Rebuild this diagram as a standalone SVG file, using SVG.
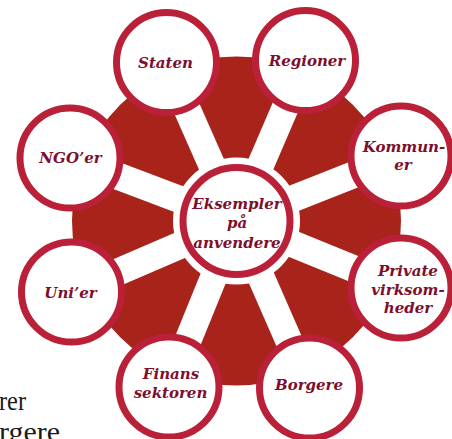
<svg xmlns="http://www.w3.org/2000/svg" width="452" height="439" viewBox="0 0 452 439">
<style>
.ring{fill:#ffffff;stroke:#ba2038;stroke-width:7}
.lbl{font-family:"DejaVu Serif","Liberation Serif",serif;font-weight:bold;font-style:italic;font-size:15px;fill:#7c0f2d;text-anchor:middle}
.spoke{stroke:#ffffff;stroke-width:27;stroke-linecap:butt}
.bg{font-family:"Liberation Serif",serif;font-size:28px;fill:#1a1a1a}
</style>
<rect width="452" height="439" fill="#ffffff"/>
<text class="bg" x="-1" y="410" textLength="27" lengthAdjust="spacingAndGlyphs">rer</text>
<text class="bg" x="-1" y="441" textLength="61" lengthAdjust="spacingAndGlyphs">rgere</text>
<circle id="backdrop" cx="236.5" cy="221" r="164.5" fill="#a8231a"/>
<g id="connectors">
<line class="spoke" x1="236.5" y1="221" x2="166.5" y2="62.5"/>
<line class="spoke" x1="236.5" y1="221" x2="305.5" y2="60.5"/>
<line class="spoke" x1="236.5" y1="221" x2="401" y2="156"/>
<line class="spoke" x1="236.5" y1="221" x2="401" y2="288"/>
<line class="spoke" x1="236.5" y1="221" x2="309.5" y2="388"/>
<line class="spoke" x1="236.5" y1="221" x2="169" y2="387"/>
<line class="spoke" x1="236.5" y1="221" x2="71.5" y2="292"/>
<line class="spoke" x1="236.5" y1="221" x2="70" y2="158"/>
</g>
<g id="center">
<circle cx="236.5" cy="221" r="63.5" fill="#ffffff"/>
<circle class="ring" cx="236.5" cy="221" r="53.5" stroke-width="6"/>
<text class="lbl" x="237" y="209">Eksempler</text>
<text class="lbl" x="237" y="228">på</text>
<text class="lbl" x="237" y="247.5">anvendere</text>
</g>
<g id="staten">
<circle class="ring" cx="166.5" cy="62.5" r="50"/>
<text class="lbl" x="165.5" y="67.5">Staten</text>
</g>
<g id="regioner">
<circle class="ring" cx="305.5" cy="60.5" r="50"/>
<text class="lbl" x="307" y="66">Regioner</text>
</g>
<g id="kommuner">
<circle class="ring" cx="401" cy="156" r="50"/>
<text class="lbl" x="404" y="151.5">Kommun-</text>
<text class="lbl" x="403" y="170">er</text>
</g>
<g id="private">
<circle class="ring" cx="401" cy="288" r="50"/>
<text class="lbl" x="408" y="276">Private</text>
<text class="lbl" x="408" y="295">virksom-</text>
<text class="lbl" x="408" y="313">heder</text>
</g>
<g id="borgere">
<circle class="ring" cx="309.5" cy="388" r="50"/>
<text class="lbl" x="309" y="389.5">Borgere</text>
</g>
<g id="finans">
<circle class="ring" cx="169" cy="387" r="50"/>
<text class="lbl" x="171" y="379">Finans</text>
<text class="lbl" x="170.5" y="397.5">sektoren</text>
</g>
<g id="unier">
<circle class="ring" cx="71.5" cy="292" r="50"/>
<text class="lbl" x="70.5" y="297.5">Uni’er</text>
</g>
<g id="ngoer">
<circle class="ring" cx="70" cy="158" r="50"/>
<text class="lbl" x="70.5" y="163">NGO’er</text>
</g>
</svg>
